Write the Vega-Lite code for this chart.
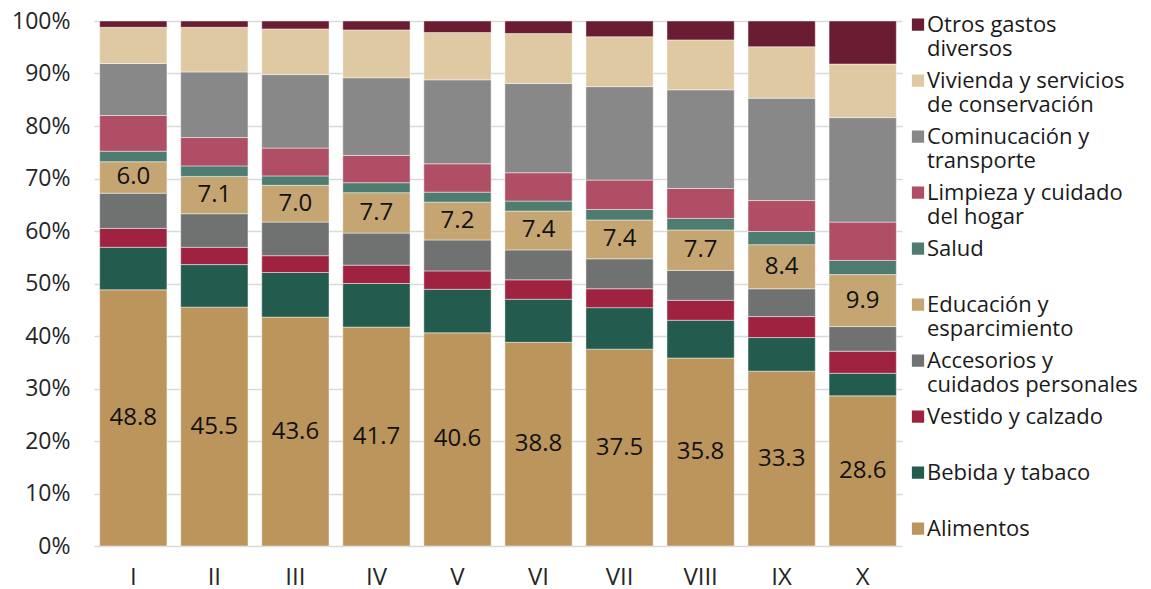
{
  "$schema": "https://vega.github.io/schema/vega-lite/v6.json",
  "width": 808,
  "height": 525,
  "autosize": {"type": "none"},
  "padding": {"top": 21, "bottom": 43, "left": 94, "right": 249},
  "background": "white",
  "datasets": {
    "cats": [
      {"key": "ali", "cat": "Alimentos", "k": 0},
      {"key": "beb", "cat": "Bebida y tabaco", "k": 1},
      {"key": "ves", "cat": "Vestido y calzado", "k": 2},
      {"key": "acc", "cat": "Accesorios y|cuidados personales", "k": 3},
      {"key": "edu", "cat": "Educación y|esparcimiento", "k": 4},
      {"key": "sal", "cat": "Salud", "k": 5},
      {"key": "lim", "cat": "Limpieza y cuidado|del hogar", "k": 6},
      {"key": "com", "cat": "Cominucación y|transporte", "k": 7},
      {"key": "viv", "cat": "Vivienda y servicios|de conservación", "k": 8},
      {"key": "otr", "cat": "Otros gastos|diversos", "k": 9}
    ],
    "gasto": [
      {"d": "I", "ali": 48.8, "beb": 8.1, "ves": 3.6, "acc": 6.7, "edu": 6.0, "sal": 2.0, "lim": 6.8, "com": 9.9, "viv": 6.9, "otr": 1.2},
      {"d": "II", "ali": 45.5, "beb": 8.1, "ves": 3.3, "acc": 6.4, "edu": 7.1, "sal": 2.0, "lim": 5.4, "com": 12.5, "viv": 8.5, "otr": 1.2},
      {"d": "III", "ali": 43.6, "beb": 8.5, "ves": 3.2, "acc": 6.4, "edu": 7.0, "sal": 1.8, "lim": 5.3, "com": 14.0, "viv": 8.7, "otr": 1.5},
      {"d": "IV", "ali": 41.7, "beb": 8.3, "ves": 3.5, "acc": 6.1, "edu": 7.7, "sal": 1.9, "lim": 5.2, "com": 14.8, "viv": 9.1, "otr": 1.7},
      {"d": "V", "ali": 40.6, "beb": 8.3, "ves": 3.5, "acc": 5.9, "edu": 7.2, "sal": 1.9, "lim": 5.4, "com": 16.0, "viv": 9.0, "otr": 2.2},
      {"d": "VI", "ali": 38.8, "beb": 8.2, "ves": 3.7, "acc": 5.7, "edu": 7.4, "sal": 1.9, "lim": 5.4, "com": 17.0, "viv": 9.5, "otr": 2.4},
      {"d": "VII", "ali": 37.5, "beb": 7.9, "ves": 3.6, "acc": 5.7, "edu": 7.4, "sal": 2.0, "lim": 5.6, "com": 17.8, "viv": 9.5, "otr": 3.0},
      {"d": "VIII", "ali": 35.8, "beb": 7.2, "ves": 3.8, "acc": 5.7, "edu": 7.7, "sal": 2.2, "lim": 5.7, "com": 18.8, "viv": 9.5, "otr": 3.6},
      {"d": "IX", "ali": 33.3, "beb": 6.4, "ves": 4.0, "acc": 5.3, "edu": 8.4, "sal": 2.5, "lim": 5.9, "com": 19.5, "viv": 9.8, "otr": 4.9},
      {"d": "X", "ali": 28.6, "beb": 4.3, "ves": 4.2, "acc": 4.7, "edu": 9.9, "sal": 2.7, "lim": 7.3, "com": 19.9, "viv": 10.2, "otr": 8.2}
    ]
  },
  "data": {"name": "gasto"},
  "transform": [
    {"fold": ["ali", "beb", "ves", "acc", "edu", "sal", "lim", "com", "viv", "otr"], "as": ["key", "v"]},
    {"lookup": "key", "from": {"data": {"name": "cats"}, "key": "key", "fields": ["cat", "k"]}}
  ],
  "config": {
    "font": "Open Sans",
    "view": {"stroke": null},
    "axis": {"labelFont": "Open Sans", "labelColor": "#262626", "ticks": false, "domain": false, "title": null}
  },
  "encoding": {
    "x": {
      "field": "d", "type": "ordinal", "sort": null,
      "scale": {"paddingInner": 0.17, "paddingOuter": 0.07},
      "axis": {"labelAngle": 0, "labelPadding": 19, "labelFontSize": 24, "grid": false}
    },
    "y": {
      "field": "v", "type": "quantitative", "stack": "normalize",
      "scale": {"domain": [0, 1]},
      "axis": {"values": [0, 0.1, 0.2, 0.3, 0.4, 0.5, 0.6, 0.7, 0.8, 0.9, 1], "format": ".0%", "labelPadding": 24, "labelFontSize": 23, "grid": true, "gridColor": "#d9d9d9", "gridWidth": 1.5}
    },
    "order": {"field": "k", "type": "quantitative", "sort": "ascending"}
  },
  "layer": [
    {
      "mark": {"type": "bar", "stroke": "#ffffff", "strokeWidth": 1, "strokeOpacity": 0.45},
      "encoding": {
        "color": {
          "field": "cat", "type": "nominal",
          "scale": {
            "domain": ["Otros gastos|diversos", "Vivienda y servicios|de conservación", "Cominucación y|transporte", "Limpieza y cuidado|del hogar", "Salud", "Educación y|esparcimiento", "Accesorios y|cuidados personales", "Vestido y calzado", "Bebida y tabaco", "Alimentos"],
            "range": ["#691c32", "#dec9a3", "#878887", "#b04e66", "#4f7c71", "#c5a572", "#6f7271", "#9f2241", "#235b4e", "#bc955c"]
          },
          "legend": {
            "title": null,
            "orient": "none",
            "legendX": 813,
            "legendY": -17,
            "labelExpr": "split(datum.label, '|')",
            "labelFont": "Open Sans",
            "labelFontSize": 22,
            "labelColor": "#1a1a1a",
            "labelLimit": 400,
            "labelBaseline": "top",
            "labelOffset": -2,
            "symbolType": "M-1,0.57H1V2.57H-1Z",
            "symbolSize": 150,
            "symbolStrokeWidth": 0,
            "symbolOpacity": 1,
            "gridAlign": "all",
            "rowPadding": 0,
            "padding": 0
          }
        }
      }
    },
    {
      "mark": {"type": "text", "fontSize": 24, "font": "Open Sans", "color": "#111111"},
      "encoding": {
        "detail": {"field": "cat", "type": "nominal"},
        "y": {"field": "v", "type": "quantitative", "stack": "normalize", "bandPosition": 0.5},
        "text": {
          "condition": {"test": "datum.key === 'ali' || datum.key === 'edu'", "field": "v", "type": "quantitative", "format": ".1f"},
          "value": ""
        }
      }
    }
  ]
}
